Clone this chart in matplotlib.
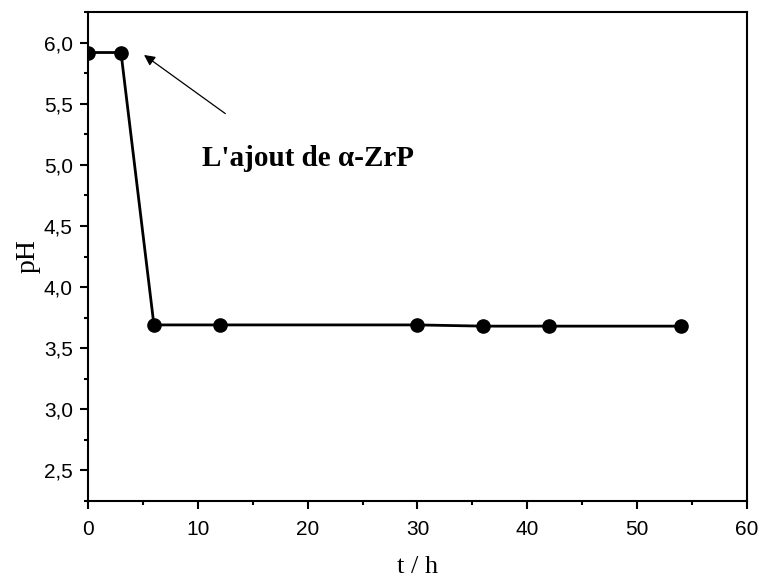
import matplotlib
matplotlib.use("Agg")
import matplotlib.pyplot as plt
from matplotlib.ticker import MultipleLocator, FuncFormatter

# time (h) and pH values
t_hours = [0, 3, 6, 12, 30, 36, 42, 54]
ph_vals = [5.92, 5.92, 3.69, 3.69, 3.69, 3.68, 3.68, 3.68]

note_text = "L'ajout de \u03b1-ZrP"
note_pos = (20.0, 5.05)
arrow_head = (5.1, 5.90)
arrow_tail = (12.5, 5.42)

fig = plt.figure(figsize=(7.59, 5.81), dpi=100)
ax = fig.add_axes([0.116, 0.138, 0.868, 0.841])

ax.plot(t_hours, ph_vals, color="black", lw=2, marker="o", markersize=9.5,
        zorder=3)

ax.set_xlim(0, 60)
ax.set_ylim(2.25, 6.25)
ax.xaxis.set_major_locator(MultipleLocator(10))
ax.xaxis.set_minor_locator(MultipleLocator(5))
ax.yaxis.set_major_locator(MultipleLocator(0.5))
ax.yaxis.set_minor_locator(MultipleLocator(0.25))
ax.yaxis.set_major_formatter(FuncFormatter(lambda v, p: ("%.1f" % v).replace(".", ",")))

for s in ax.spines.values():
    s.set_linewidth(1.5)
ax.tick_params(which="major", direction="out", length=6, width=1.5,
               labelsize=15, top=False, right=False)
ax.tick_params(axis="x", which="major", pad=8)
ax.tick_params(axis="y", which="major", pad=5)
ax.tick_params(which="minor", direction="out", length=3, width=1.5,
               top=False, right=False)
for lab in ax.get_xticklabels() + ax.get_yticklabels():
    lab.set_fontfamily("Liberation Sans")

ax.set_xlabel("t / h", fontsize=19, fontfamily="Liberation Serif", labelpad=12)
ax.set_ylabel("pH", fontsize=20, fontfamily="Liberation Serif", labelpad=2)

ax.text(*note_pos, note_text, ha="center", va="center", fontsize=21,
        fontweight="bold", fontfamily="Liberation Serif")
ax.annotate("", xy=arrow_head, xytext=arrow_tail,
            arrowprops=dict(arrowstyle="-|>", color="black", lw=0.9,
                            mutation_scale=16, shrinkA=0, shrinkB=0))

fig.savefig("out.png", dpi=100)
